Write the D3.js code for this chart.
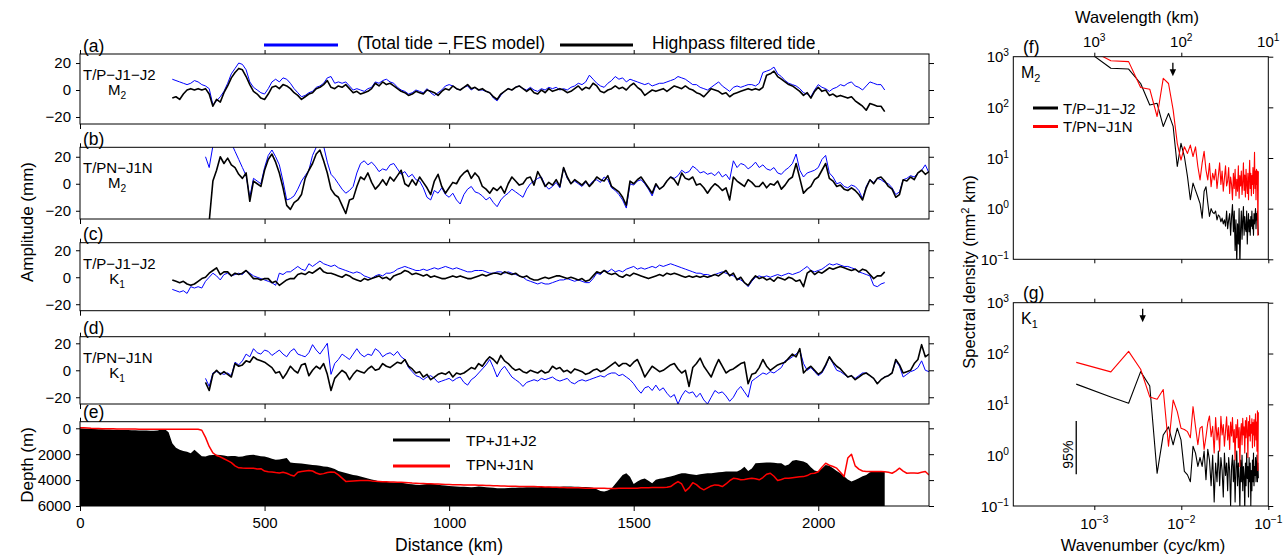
<!DOCTYPE html>
<html>
<head>
<meta charset="utf-8">
<script src="https://cdn.jsdelivr.net/npm/d3@7/dist/d3.min.js"></script>
<style>
  html, body { margin: 0; padding: 0; background: #fff; }
  svg { display: block; }
</style>
</head>
<body>
<svg id="fig" width="1285" height="556"></svg>
<script>
// ---------------------------------------------------------------
// Along-track amplitude profiles (mm), sampled every 10 km
// ---------------------------------------------------------------
const stepKm = 10;

// (a) M2, T/P-J1-J2 track
const m2TpStart = 250;
const m2TpTotal = [
  8,7,6,5,4,5,7,6,4,3,
  1,-11,-8,-5,-1,5,12,16,20,19,
  15,6,2,0,-2,-3,1,6,8,6,
  9,8,5,1,-2,-5,-4,-2,-1,2,
  3,5,9,10,5,6,5,6,3,0,
  1,0,-1,1,2,6,5,7,8,6,
  5,2,0,-1,-3,-2,0,-1,-2,1,
  -2,-4,-2,0,3,4,3,1,0,2,
  3,0,2,0,0,-1,-2,-6,-8,-4,
  -1,1,0,2,3,1,0,2,0,-1,
  1,0,2,1,2,0,1,0,2,3,
  5,4,6,11,8,5,3,2,5,7,
  10,8,9,6,8,7,6,5,4,5,
  3,4,5,5,6,7,8,10,9,8,
  6,4,4,2,1,0,2,4,6,3,
  1,-1,2,3,2,3,4,4,3,5,
  13,14,15,17,12,10,7,5,4,3,
  1,-2,-3,-5,0,4,2,1,-1,1,
  2,4,3,5,6,3,2,0,3,6,
  5,4,4,0
];
const m2TpHighpass = [
  -6,-5,-7,-3,0,1,0,1,0,1,
  -3,-12,-7,-9,-2,3,9,13,16,15,
  10,4,-1,-3,-6,-7,-3,2,3,1,
  4,3,1,-2,-4,-7,-5,-3,-2,1,
  2,4,7,2,1,3,2,4,1,-2,
  -1,-3,-2,-1,1,5,3,6,4,5,
  3,1,-1,-2,-4,-3,-1,-2,-3,0,
  -1,-2,-4,-1,1,0,3,1,0,2,
  4,1,2,0,1,-1,-2,-5,-7,-3,
  -1,1,0,2,3,1,-1,1,-2,-3,
  0,-2,1,-1,0,1,0,-2,-1,1,
  3,0,2,1,5,3,-1,-2,0,1,
  3,1,2,0,3,5,2,0,-4,-2,
  0,-1,0,1,-1,1,3,2,1,3,
  1,0,-2,-3,-5,-2,1,0,-1,-3,
  -2,-5,-3,-2,-1,0,1,0,1,0,
  2,11,12,14,10,8,6,4,3,1,
  -1,-4,-2,-6,-1,2,-1,0,-4,-3,
  -5,-4,-5,-6,-5,-8,-10,-12,-15,-10,
  -11,-12,-12,-16
];

// (b) M2, T/PN-J1N track
const m2TpnTotalStart = 340;
const m2TpnTotal = [
  20,12,28,32,35,33,32,30,24,18,
  12,6,-10,4,2,0,12,21,25,20,
  14,2,-12,-11,-9,-4,2,6,10,21,
  27,31,28,16,7,4,0,-4,-7,-5,
  -2,8,15,17,14,16,13,9,11,10,
  14,15,11,7,9,5,7,3,2,-3,
  -10,-12,-5,-7,-3,-8,-10,-7,-12,-15,
  -8,-4,-2,-6,-7,-9,-12,-10,-14,-17,
  -12,-9,-7,-4,-6,-8,-10,-4,0,2,
  4,5,-1,-4,-2,1,-3,12,4,0,
  2,0,-2,1,-1,2,3,1,5,3,
  -3,-5,-8,-12,-18,0,-1,2,3,0,
  -4,-9,-1,-4,-2,2,5,4,6,10,
  8,9,13,11,8,9,7,8,6,9,
  5,7,3,17,12,15,14,11,13,16,
  12,14,11,10,12,8,7,10,12,15,
  22,10,5,8,9,10,12,18,21,8,
  5,0,1,-2,-3,-1,-2,-5,-11,-2,
  3,1,4,3,1,0,-3,-8,-6,3,
  4,6,5,8,10,14,8
];
const m2TpnHighpassStart = 350;
const m2TpnHighpass = [
  -28,2,10,20,15,19,14,12,7,4,
  8,-13,2,0,-2,10,18,22,16,8,
  -3,-16,-19,-14,-12,-8,4,10,15,22,
  25,17,8,-4,-8,-10,-16,-22,-12,-11,
  -2,5,3,8,1,-4,-1,3,-1,5,
  2,6,10,0,-2,3,-1,5,1,-3,
  -8,2,7,-2,-7,-3,1,0,5,8,
  10,4,8,5,-2,-4,-7,-3,-5,-2,
  -7,0,5,2,-1,0,4,5,-1,9,
  4,-2,1,-1,3,-2,12,5,0,3,
  1,-1,2,-2,1,5,3,2,6,-2,
  -4,-6,-10,-16,2,0,3,5,1,-3,
  -7,0,-4,-2,2,5,3,-1,8,4,
  3,5,-1,0,-3,-7,-3,0,-2,-5,
  -3,-12,5,2,0,-2,3,1,-2,-2,
  1,-3,0,-1,2,-4,-1,3,5,15,
  4,-7,-4,-2,3,5,10,15,4,2,
  -2,-1,-4,-5,-3,-5,-8,-12,-3,3,
  0,4,5,2,-2,-4,-10,-8,3,2,
  5,3,8,10,7,9
];

// (c) K1, T/P-J1-J2 track
const k1TpStart = 250;
const k1TpTotal = [
  -9,-10,-11,-10,-12,-7,-8,-7,-8,-3,
  0,3,1,-2,2,3,1,2,3,2,
  5,3,1,0,-1,-2,-3,-4,-6,3,
  2,4,4,6,8,6,5,10,8,10,
  12,10,9,8,9,7,6,5,4,3,
  4,3,1,0,-1,1,2,1,3,3,
  4,6,7,8,7,6,5,5,6,5,
  6,7,6,7,8,7,6,7,6,5,
  4,4,5,5,5,4,3,3,4,4,
  3,4,3,2,1,0,-2,-3,-4,-5,
  -4,-5,-5,-4,-3,-2,-2,-1,-2,-3,
  -2,-3,-4,-4,-1,3,2,5,4,6,
  4,5,4,6,7,8,6,7,6,7,
  8,7,9,8,9,10,9,8,7,6,
  5,4,3,3,2,2,1,2,3,4,
  3,2,1,-1,-2,-4,-7,-3,0,1,
  0,1,0,1,2,1,2,3,2,3,
  4,6,8,5,4,5,6,8,10,9,
  10,9,8,8,7,6,4,3,2,1,
  -6,-7,-5,-4
];
const k1TpHighpass = [
  -2,-3,-4,-3,-5,-6,-5,-3,-1,0,
  3,5,7,2,4,4,1,3,2,3,
  5,2,-1,-1,-2,-1,-1,-4,-3,-6,
  -4,-2,-1,-1,2,3,2,4,3,5,
  7,4,3,3,2,1,0,2,1,-1,
  -2,-3,-1,-2,-1,0,1,-1,0,-2,
  1,2,3,5,4,2,3,2,1,2,
  0,1,0,-1,-1,0,1,0,1,0,
  -1,-1,0,1,2,1,2,3,3,2,
  4,3,2,3,1,0,1,-1,-2,-2,
  -1,0,-1,0,1,1,0,-1,0,-1,
  -2,-1,-3,-2,1,4,3,5,3,2,
  3,1,0,2,1,3,2,1,0,-1,
  0,1,2,1,3,2,3,2,1,0,
  1,0,1,0,1,0,1,2,1,3,
  5,1,3,-2,0,-4,-6,-2,1,-1,
  0,-2,-1,-3,0,-1,-2,0,-1,-3,
  -2,-7,3,5,2,4,3,5,7,6,
  7,8,7,6,5,6,4,6,5,2,
  -1,1,1,4
];

// (d) K1, T/PN-J1N track
const k1TpnStart = 340;
const k1TpnTotal = [
  -6,-12,-2,-1,-2,-3,-2,-4,6,4,
  7,12,10,16,13,12,15,14,11,13,
  15,12,10,14,16,12,11,10,13,19,
  15,12,16,20,-3,5,8,12,10,8,
  12,16,12,10,12,11,16,14,10,12,
  13,11,14,10,8,2,-1,-4,-5,-7,
  -5,-4,-6,-9,-8,-7,-6,-8,-6,-5,
  -9,-11,-7,-5,-2,1,4,8,2,-5,
  0,3,-1,-5,-7,-9,-12,-9,-8,-7,
  -8,-6,-7,-6,-5,-7,-8,-7,-6,-9,
  -10,-8,-7,-8,-7,-6,-5,-4,-5,-3,
  -2,-2,-4,-3,-5,-7,-10,-14,-17,-13,
  -12,-15,-11,-15,-13,-17,-20,-18,-25,-19,
  -15,-17,-16,-20,-17,-22,-25,-20,-15,-17,
  -16,-19,-23,-20,-15,-12,-16,-20,-8,-6,
  -4,-2,-3,-1,-2,0,2,7,8,10,
  12,15,5,0,2,-1,-4,-2,3,10,
  5,0,-1,-3,-5,-4,-6,-4,-2,-2,
  -4,-6,-10,-7,-5,-4,-2,7,3,-5,
  -3,-1,0,2,7,0,-1
];
const k1TpnHighpass = [
  -9,-15,-3,0,-3,-1,-3,-5,5,3,
  4,7,6,10,8,7,6,4,2,-2,
  -1,-6,-2,3,0,-2,4,5,-4,0,
  3,1,5,-3,-15,-6,-3,0,-2,-7,
  -3,0,-1,-2,1,3,0,1,5,3,
  2,4,6,5,8,3,1,-2,-1,-5,
  -3,-7,-5,-3,-2,-3,-1,-5,-2,-3,
  -2,0,2,1,5,3,7,10,8,5,
  11,7,5,2,0,1,-1,-2,0,-1,
  -2,0,-2,-1,3,1,2,-1,0,-2,
  1,0,-1,-3,-2,0,1,-1,0,2,
  4,6,3,5,5,3,6,8,2,-5,
  -1,3,1,-1,0,2,4,5,1,-2,
  0,-12,2,5,9,3,-1,-5,2,8,
  3,-2,0,1,3,5,6,-10,-3,-2,
  2,8,3,0,2,4,5,6,9,12,
  10,16,-2,1,3,0,-3,-1,4,10,
  6,3,1,-2,-5,-4,-7,-5,-3,-2,
  -4,-6,-10,-7,-5,-4,-2,8,4,-2,
  -1,0,5,8,19,10,12
];

// (e) Bathymetry along the two tracks (m)
const depthStart = 0;
const depthTpJ1J2 = [
  0,20,40,50,60,70,80,90,100,110,
  120,130,130,140,150,150,160,170,170,180,
  180,170,100,80,300,1150,1500,1650,1750,1820,
  1920,1650,1900,2150,2170,2080,2060,2050,2070,2100,
  2150,2140,2130,2200,2180,2100,2060,2050,2100,2150,
  2180,2250,2350,2420,2400,2350,2300,2650,2680,2700,
  2720,2750,2800,2830,2850,2900,2950,2960,3050,3150,
  3300,3380,3450,3520,3600,3650,3720,3800,3880,3950,
  4020,4100,4120,4150,4170,4180,4190,4200,4250,4300,
  4320,4350,4370,4330,4300,4290,4300,4350,4400,4420,
  4450,4480,4500,4510,4520,4540,4550,4530,4500,4520,
  4560,4580,4600,4620,4630,4630,4610,4600,4590,4580,
  4570,4560,4560,4550,4550,4540,4530,4520,4520,4510,
  4510,4500,4500,4500,4510,4520,4530,4540,4550,4600,
  4700,4850,4880,4800,4650,4300,3950,3600,3470,3750,
  4300,4100,3950,3880,4050,4240,3980,3900,3850,3780,
  3730,3650,3550,3480,3470,3520,3570,3600,3550,3500,
  3470,3470,3430,3400,3370,3340,3340,3330,3340,3200,
  2960,3300,3100,2700,2680,2660,2650,2640,2660,2690,
  2700,2900,2800,2500,2440,2500,2570,2700,3000,3250,
  3340,3100,2830,2900,3080,3300,3470,3700,3950,4110,
  4000,3860,3700,3600,3400,3340,3340,3340,3340
];
const depthTpnJ1n = [
  -50,-40,-20,0,10,20,30,30,40,40,
  50,50,50,60,60,60,70,70,70,70,
  80,80,80,80,80,80,80,80,80,80,
  80,80,80,150,700,1400,1900,2100,2200,2350,
  2500,2650,2900,3050,3070,3080,3080,3080,3150,3120,
  3300,3350,3380,3420,3450,3400,3470,3600,3680,3400,
  3340,3300,3260,3300,3450,3550,3500,3420,3380,3400,
  3600,3850,4100,4080,4060,4050,4040,4030,4030,4060,
  4080,4100,4120,4130,4140,4150,4160,4170,4190,4210,
  4230,4240,4260,4270,4280,4290,4300,4310,4320,4330,
  4340,4350,4360,4360,4370,4370,4370,4380,4390,4400,
  4410,4420,4430,4440,4450,4460,4470,4480,4480,4490,
  4490,4500,4500,4500,4510,4520,4530,4540,4550,4560,
  4570,4580,4590,4590,4600,4600,4610,4620,4620,4630,
  4630,4630,4630,4640,4640,4640,4630,4630,4630,4620,
  4630,4620,4600,4590,4590,4580,4580,4580,4570,4560,
  4500,4300,4110,4300,4850,4600,4200,4350,4600,4750,
  4600,4450,4370,4400,4500,4300,4050,3860,3900,3980,
  3950,3900,3860,3900,3980,3800,3550,3470,3700,4030,
  3950,3850,3860,3820,3780,3750,3730,3650,3500,3470,
  3350,3000,2700,2850,2950,3080,3400,3730,2300,2000,
  2900,3150,3300,3340,3340,3330,3340,3340,3350,3400,
  3470,3300,3080,3300,3470,3450,3460,3470,3400,3340,3600
];

// ---------------------------------------------------------------
// Wavenumber spectra (mm^2 km) on a uniform wavenumber grid
// ---------------------------------------------------------------
const wavenumber0 = 0.00062;      // first spectral estimate (cyc/km)
const wavenumberStep = 0.00093;   // spectral resolution (cyc/km)

const m2SpecTp = [
  1870,590,570,296,111,120,42,76,42,6.8,
  19.5,10.7,4.3,1.5,3.2,2.3,1.7,1.26,0.65,2.2,
  2.7,1.3,0.7,1.0,0.85,0.8,0.9,0.6,0.75,0.7,
  0.55,0.65,0.5,0.6,0.45,0.9,0.4,0.6,0.8,0.3,
  0.7,1.2,0.35,0.9,0.15,0.6,0.08,0.5,0.2,1.0,
  0.07,0.4,0.9,0.25,0.6,1.1,0.3,0.7,0.4,0.35,
  0.9,0.2,0.5,0.8,0.35,0.6,0.3,0.7,0.45,0.9,
  0.4,0.6,0.3,0.8,0.5,0.7,1.0,0.4,0.8,0.6,
  0.9,0.5,0.3
];
const m2SpecTpn = [
  1900,830,800,247,228,66,373,296,89,19.5,
  9.1,16.7,12.3,18,10.7,16.6,6.8,3.7,7.9,13.5,
  5.8,3.7,7.9,2.7,5,3.7,6,2.5,4.5,8,
  3,5.5,2.2,4,7,2.8,3.5,6.5,2,4.2,
  3,1.5,5,2.5,6,1.8,3.8,2.2,7,1.6,
  4.5,2.8,5.5,1.9,3.3,8,2.3,4.6,1.7,6,
  3,2,5,1.5,4,9,2.5,5,1.8,4.5,
  3,6.5,2,4,13,2.5,5.5,1.5,6,3,
  5.5,0.3,5.5
];
const k1SpecTp = [
  25,14,10.5,44,23,0.44,2.5,3.6,1.6,3.4,
  2,0.48,0.41,0.3,1.5,1.1,0.6,0.9,0.6,1.2,
  0.33,1.3,0.8,0.25,1.0,0.12,0.7,0.3,1.2,0.25,
  0.9,0.5,0.15,1.1,0.4,0.7,0.2,0.9,0.5,0.1,
  0.6,1.0,0.3,0.8,0.12,0.55,1.2,0.25,0.7,0.35,
  0.09,0.8,0.3,1.0,0.2,0.6,0.4,0.08,0.7,0.25,
  1.1,0.35,0.6,0.15,0.9,0.3,0.7,0.1,0.5,0.2,
  0.8,0.3,1.1,0.25,0.6,0.4,0.9,0.3,0.6,1.0,
  0.3,0.7,0.35
];
const k1SpecTpn = [
  67,43.6,110,49,14,12.6,19.6,1.5,12.2,7.2,
  3.4,3.2,2.9,2.2,9,3.6,1.6,3.4,3.7,1.3,
  2.3,4.3,5.9,2.3,3.7,1.1,5.5,2,3.5,1.2,
  5.8,2.5,4,1.5,3,5.7,2,3.8,1.3,4.5,
  2.4,5.5,1.8,3.2,0.8,4,2.2,5,1.4,3.5,
  0.6,2.8,4.2,1.6,5.3,2.5,3.6,1.1,4.8,2.2,
  5.5,3,0.9,4.6,2.4,6,1.9,4,2.7,5.2,
  1.4,4.4,2.5,5,1.5,3.6,6.5,2,4.5,1.2,
  7.5,0.5,7
];

// Mode-1 internal tide wavelengths marked with arrows (km)
const arrowWavelengthKm = { M2: 125, K1: 278 };
// 95% confidence interval bar for the spectra
const ci95 = [0.42, 4.7];
const ci95Wavenumber = 0.00062;

// Axis ticks
const ampTicks = [-20, 0, 20];
const distTicks = [0, 500, 1000, 1500, 2000];
const depthTicks = [0, 2000, 4000, 6000];
const densityExps = [-1, 0, 1, 2, 3];
const wavenumberExps = [-3, -2, -1];

// ---------------------------------------------------------------
// Drawing
// ---------------------------------------------------------------
const FONT = '"Liberation Sans", Arial, Helvetica, sans-serif';
const INK = "#000", BLUE = "#0000ff", RED = "#ff0000";
const svg = d3.select("#fig").attr("font-family", FONT);
const minus = v => (v < 0 ? "\u2212" + Math.abs(v) : String(v));

const xDist = d3.scaleLinear().domain([0, 2300]).range([80, 929]);
const along = (start, vals) => vals.map((v, i) => [start + i * stepKm, v]);

let clipCount = 0;
function clipRect(x, y, w, h) {
  const id = "clip" + clipCount++;
  svg.append("clipPath").attr("id", id)
    .append("rect").attr("x", x).attr("y", y).attr("width", w).attr("height", h);
  return `url(#${id})`;
}

function styleAxis(g, size) {
  g.attr("font-family", FONT).attr("font-size", size);
  g.select(".domain").remove();
  g.selectAll(".tick line").attr("stroke", INK);
  g.selectAll(".tick text").attr("fill", INK);
}

function text(x, y, str, size, opts = {}) {
  const t = svg.append("text").attr("x", x).attr("y", y)
    .attr("font-size", size).attr("fill", INK)
    .attr("text-anchor", opts.anchor || "start");
  if (opts.rotate) t.attr("transform", `rotate(-90 ${x} ${y})`);
  t.text(str);
  return t;
}

// text with subscript or superscript suffix
function scripted(x, y, base, script, size, dy, opts = {}) {
  const t = svg.append("text").attr("x", x).attr("y", y)
    .attr("font-size", size).attr("fill", INK)
    .attr("text-anchor", opts.anchor || "start");
  t.append("tspan").text(base);
  t.append("tspan").attr("dy", dy).attr("font-size", size * 0.68).text(script);
  if (opts.after) t.append("tspan").attr("dy", -dy).text(opts.after);
  return t;
}

function distanceFrame(top, bottom, y, yTicks, showX) {
  svg.append("g").attr("transform", "translate(80,0)")
    .call(d3.axisLeft(y).tickValues(yTicks).tickSize(4).tickPadding(5).tickFormat(minus))
    .call(g => styleAxis(g, 15));
  svg.append("g").attr("transform", "translate(929,0)")
    .call(d3.axisRight(y).tickValues(yTicks).tickSize(5).tickFormat(""))
    .call(g => styleAxis(g, 15));
  svg.append("g").attr("transform", `translate(0,${top})`)
    .call(d3.axisTop(xDist).tickValues(distTicks).tickSize(4).tickFormat(""))
    .call(g => styleAxis(g, 15));
  svg.append("g").attr("transform", `translate(0,${bottom})`)
    .call(d3.axisBottom(xDist).tickValues(distTicks).tickSize(5).tickPadding(6)
      .tickFormat(showX ? d3.format("d") : ""))
    .call(g => styleAxis(g, 15));
  svg.append("rect").attr("x", 80).attr("y", top)
    .attr("width", 849).attr("height", bottom - top)
    .attr("fill", "none").attr("stroke", INK).attr("stroke-width", 1);
}

// ----- amplitude panels (a)-(d) -----
const ampPanels = [
  { tag: "(a)", track: "T/P\u2212J1\u2212J2", tide: ["M", "2"], top: 54, bottom: 124, dom: [-25.2, 26.7],
    total: along(m2TpStart, m2TpTotal), hp: along(m2TpStart, m2TpHighpass) },
  { tag: "(b)", track: "T/PN\u2212J1N", tide: ["M", "2"], top: 147.3, bottom: 219, dom: [-26.1, 27],
    total: along(m2TpnTotalStart, m2TpnTotal), hp: along(m2TpnHighpassStart, m2TpnHighpass) },
  { tag: "(c)", track: "T/P\u2212J1\u2212J2", tide: ["K", "1"], top: 242.7, bottom: 310.7, dom: [-24.8, 25.6],
    total: along(k1TpStart, k1TpTotal), hp: along(k1TpStart, k1TpHighpass) },
  { tag: "(d)", track: "T/PN\u2212J1N", tide: ["K", "1"], top: 336.7, bottom: 404, dom: [-25, 24.9],
    total: along(k1TpnStart, k1TpnTotal), hp: along(k1TpnStart, k1TpnHighpass) }
];

ampPanels.forEach(p => {
  const y = d3.scaleLinear().domain(p.dom).range([p.bottom, p.top]);
  const clip = clipRect(80, p.top, 849, p.bottom - p.top);
  const line = d3.line().x(d => xDist(d[0])).y(d => y(d[1]));
  svg.append("path").datum(p.total).attr("d", line)
    .attr("fill", "none").attr("stroke", BLUE).attr("stroke-width", 1)
    .attr("stroke-linejoin", "round").attr("clip-path", clip);
  svg.append("path").datum(p.hp).attr("d", line)
    .attr("fill", "none").attr("stroke", INK).attr("stroke-width", 1.6)
    .attr("stroke-linejoin", "round").attr("clip-path", clip);
  distanceFrame(p.top, p.bottom, y, ampTicks, false);
  text(83, p.top - 2.5, p.tag, 17.5);
  text(83, p.top + 26, p.track, 15);
  scripted(117, p.top + 41, p.tide[0], p.tide[1], 15, 4, { anchor: "middle" });
});

// ----- bathymetry panel (e) -----
{
  const top = 421.7, bottom = 506;
  const y = d3.scaleLinear().domain([-510, 6000]).range([top, bottom]);
  const clip = clipRect(80, top, 849, bottom - top);
  const area = d3.area().x(d => xDist(d[0])).y0(y(6000)).y1(d => y(d[1]));
  svg.append("path").datum(along(depthStart, depthTpJ1J2)).attr("d", area)
    .attr("fill", INK).attr("clip-path", clip);
  const line = d3.line().x(d => xDist(d[0])).y(d => y(d[1]));
  svg.append("path").datum(along(depthStart, depthTpnJ1n)).attr("d", line)
    .attr("fill", "none").attr("stroke", RED).attr("stroke-width", 1.5)
    .attr("stroke-linejoin", "round").attr("clip-path", clip);
  distanceFrame(top, bottom, y, depthTicks, true);
  text(83, top - 3.5, "(e)", 17.5);

  svg.append("line").attr("x1", 393).attr("x2", 450).attr("y1", 440).attr("y2", 440)
    .attr("stroke", INK).attr("stroke-width", 3);
  text(466, 445.5, "TP+J1+J2", 15.5);
  svg.append("line").attr("x1", 393).attr("x2", 450).attr("y1", 466).attr("y2", 466)
    .attr("stroke", RED).attr("stroke-width", 3);
  text(466, 469.5, "TPN+J1N", 15.5);
}

// ----- shared titles and top legend (left block) -----
text(33, 222, "Amplitude (mm)", 17, { anchor: "middle", rotate: true });
text(33, 465, "Depth (m)", 17, { anchor: "middle", rotate: true });
text(449, 551, "Distance (km)", 17.5, { anchor: "middle" });

svg.append("line").attr("x1", 264).attr("x2", 338).attr("y1", 45).attr("y2", 45)
  .attr("stroke", BLUE).attr("stroke-width", 3);
text(357, 49, "(Total tide \u2212 FES model)", 17.5);
svg.append("line").attr("x1", 560).attr("x2", 633).attr("y1", 45).attr("y2", 45)
  .attr("stroke", INK).attr("stroke-width", 3);
text(652, 49, "Highpass filtered tide", 17.5);

// ----- spectra panels (f), (g) -----
const xK = d3.scaleLog().domain([Math.pow(10, -3.931), 0.1]).range([1013.3, 1268.3]);
const specPoints = vals => vals.map((v, i) => [wavenumber0 + i * wavenumberStep, v]);

function specPanel(cfg) {
  const { top, bottom } = cfg;
  const y = d3.scaleLog().domain([0.1, 1000]).range([bottom, top]);
  const clip = clipRect(1013.3, top, 255, bottom - top);
  const line = d3.line().x(d => xK(d[0])).y(d => y(d[1]));
  svg.append("path").datum(specPoints(cfg.tp)).attr("d", line)
    .attr("fill", "none").attr("stroke", INK).attr("stroke-width", 1.1)
    .attr("stroke-linejoin", "round").attr("clip-path", clip);
  svg.append("path").datum(specPoints(cfg.tpn)).attr("d", line)
    .attr("fill", "none").attr("stroke", RED).attr("stroke-width", 1.1)
    .attr("stroke-linejoin", "round").attr("clip-path", clip);

  const decades = densityExps.map(e => Math.pow(10, e));
  const kTicks = wavenumberExps.map(e => Math.pow(10, e));
  svg.append("g").attr("transform", "translate(1268.3,0)")
    .call(d3.axisRight(y).tickValues(decades).tickSize(5).tickFormat(""))
    .call(g => styleAxis(g, 15));
  svg.append("g").attr("transform", `translate(0,${top})`)
    .call(d3.axisTop(xK).tickValues(kTicks.slice(0, 2)).tickSize(4).tickFormat(""))
    .call(g => styleAxis(g, 15));
  svg.append("g").attr("transform", `translate(0,${bottom})`)
    .call(d3.axisBottom(xK).tickValues(kTicks).tickSize(4).tickFormat(""))
    .call(g => styleAxis(g, 15));
  svg.append("rect").attr("x", 1013.3).attr("y", top)
    .attr("width", 255).attr("height", bottom - top)
    .attr("fill", "none").attr("stroke", INK).attr("stroke-width", 1);

  densityExps.forEach(e => {
    scripted(1009, y(Math.pow(10, e)) + 5.5, "10", minus(e), 15, -6, { anchor: "end" });
  });

  text(1023, top - 3.5, cfg.tag, 17.5);
  scripted(1021, top + 21, cfg.tide[0], cfg.tide[1], 16, 4);

  // arrow at the mode-1 wavelength
  const ax = xK(1 / cfg.arrowKm);
  svg.append("line").attr("x1", ax).attr("x2", ax).attr("y1", top + 6).attr("y2", top + 14)
    .attr("stroke", INK).attr("stroke-width", 1.3);
  svg.append("path")
    .attr("d", `M${ax - 3.2},${top + 12.5} L${ax + 3.2},${top + 12.5} L${ax},${top + 19.5} Z`)
    .attr("fill", INK);
  return y;
}

specPanel({ top: 56.7, bottom: 259.3, tp: m2SpecTp, tpn: m2SpecTpn, tag: "(f)",
  tide: ["M", "2"], arrowKm: arrowWavelengthKm.M2 });
const yG = specPanel({ top: 302.7, bottom: 506, tp: k1SpecTp, tpn: k1SpecTpn, tag: "(g)",
  tide: ["K", "1"], arrowKm: arrowWavelengthKm.K1 });

// legend in (f)
svg.append("line").attr("x1", 1033).attr("x2", 1058).attr("y1", 108).attr("y2", 108)
  .attr("stroke", INK).attr("stroke-width", 3);
text(1063, 113.5, "T/P\u2212J1\u2212J2", 15);
svg.append("line").attr("x1", 1033).attr("x2", 1058).attr("y1", 126.5).attr("y2", 126.5)
  .attr("stroke", RED).attr("stroke-width", 3);
text(1063, 132, "T/PN\u2212J1N", 15);

// 95% confidence bar in (g)
{
  const bx = xK(ci95Wavenumber);
  svg.append("line").attr("x1", bx).attr("x2", bx)
    .attr("y1", yG(ci95[1])).attr("y2", yG(ci95[0]))
    .attr("stroke", INK).attr("stroke-width", 1.3);
  text(bx - 3, (yG(ci95[0]) + yG(ci95[1])) / 2 + 7, "95%", 14, { anchor: "middle", rotate: true });
}

// wavelength labels along the top of (f), wavenumber labels below (g)
wavenumberExps.forEach(e => {
  const x = xK(Math.pow(10, e));
  scripted(x, 47, "10", String(-e), 15, -6, { anchor: "middle" });
  scripted(x, 529, "10", minus(e), 15, -6, { anchor: "middle" });
});
text(1137, 23, "Wavelength (km)", 16.5, { anchor: "middle" });
text(1143, 551, "Wavenumber (cyc/km)", 16.5, { anchor: "middle" });
scripted(975, 272, "Spectral density  (mm", "2", 16.5, -6, { anchor: "middle", after: " km)" })
  .attr("transform", "rotate(-90 975 272)");
</script>
</body>
</html>
